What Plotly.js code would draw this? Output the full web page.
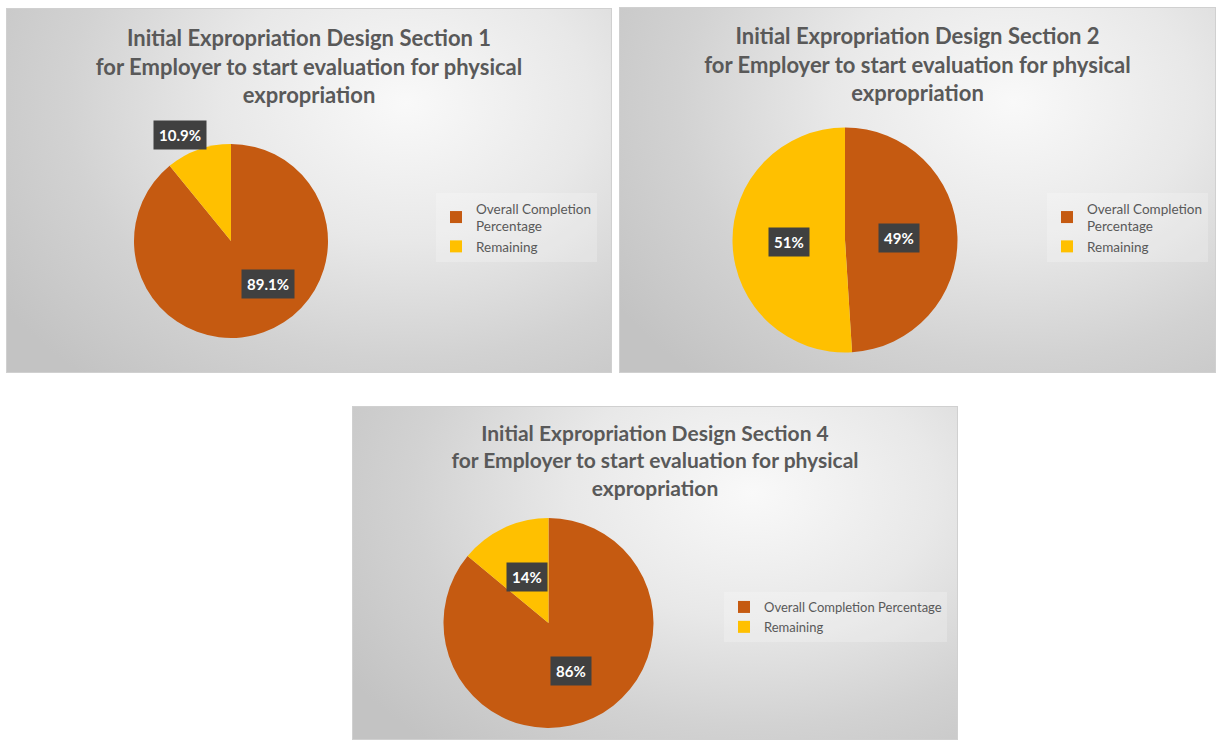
<!DOCTYPE html>
<html><head><meta charset="utf-8">
<script src="https://cdn.plot.ly/plotly-3.0.1.min.js"></script>
<style>
body{margin:0;background:#fff;width:1217px;height:740px;position:relative;overflow:hidden;}
.panel{position:absolute;
 background:radial-gradient(ellipse 80% 100% at 66% 26%, #f9f9f9 0%, #e8e8e8 38%, #d2d2d2 70%, #c3c3c3 100%);
 box-shadow: inset 0 0 0 1px #d0d0d0;}
</style></head><body>
<div id="p1" class="panel" style="left:6px;top:8px;width:606px;height:365px"></div>
<div id="p2" class="panel" style="left:619px;top:7px;width:597px;height:366px"></div>
<div id="p3" class="panel" style="left:352px;top:406px;width:606px;height:334px"></div>
<script>
// ---- data ----
const categories = ['Overall Completion Percentage', 'Remaining'];
const section1Values = [89.1, 10.9];
const section2Values = [49, 51];
const section4Values = [86, 14];
const section1Labels = ['89.1%', '10.9%'];
const section2Labels = ['49%', '51%'];
const section4Labels = ['86%', '14%'];
const title1 = 'Initial Expropriation Design Section 1<br>for Employer to start evaluation for physical<br>expropriation';
const title2 = 'Initial Expropriation Design Section 2<br>for Employer to start evaluation for physical<br>expropriation';
const title4 = 'Initial Expropriation Design Section 4<br>for Employer to start evaluation for physical<br>expropriation';

// ---- style ----
const sliceColors = ['#C55A11', '#FFC000'];
const FONT = 'Lato, "Open Sans", sans-serif';

function drawPanel(id, W, H, title, values, labels, st) {
  const legendNames = st.wrapLegend
    ? categories.map(c => c.replace(' Percentage', '<br>Percentage'))
    : categories;
  const cx = st.cx, cy = st.cy, r = st.r;
  const domain = {
    x: [(cx - r) / W, (cx + r) / W],
    y: [1 - (cy + r) / H, 1 - (cy - r) / H]
  };
  // label positions derived from slice mid-angles (clockwise from 12 o'clock)
  const total = values.reduce((a, b) => a + b, 0);
  let cum = 0;
  const annotations = values.map((v, i) => {
    const mid = (cum + v / 2) / total * 360 + st.turn[i];
    cum += v;
    const a = mid * Math.PI / 180;
    const d = st.dist[i] * r;
    const px = cx + d * Math.sin(a);
    const py = cy - d * Math.cos(a);
    return {
      x: px / W, y: 1 - py / H, xref: 'paper', yref: 'paper',
      xanchor: 'center', yanchor: 'middle', showarrow: false,
      text: '<b>' + labels[i] + '</b>',
      bgcolor: '#404040', borderpad: 5,
      font: {family: FONT, size: 15, color: '#ffffff'}
    };
  });
  const trace = {
    type: 'pie', labels: legendNames, values: values, sort: false,
    direction: 'clockwise', rotation: 0, textinfo: 'none', hoverinfo: 'none',
    marker: {colors: sliceColors, line: {width: 0}}, domain: domain
  };
  const layout = {
    width: W, height: H, margin: {l: 0, r: 0, t: 0, b: 0, autoexpand: false},
    paper_bgcolor: 'rgba(0,0,0,0)', plot_bgcolor: 'rgba(0,0,0,0)',
    title: {text: '<b>' + title + '</b>', x: 0.5, xanchor: 'center',
            yref: 'container', y: 1 - st.titleTop / H, yanchor: 'top',
            font: {family: FONT, size: st.titleSize, color: '#595959'}},
    showlegend: true,
    legend: {x: st.legX / W, y: 1 - st.legY / H, xanchor: 'left', yanchor: 'top',
             bgcolor: 'rgba(255,255,255,0.22)', borderwidth: 0,
             font: {family: FONT, size: st.legSize, color: '#595959'}, traceorder: 'normal'},
    annotations: annotations
  };
  Plotly.newPlot(id, [trace], layout, {staticPlot: true, displayModeBar: false});
}

drawPanel('p1', 606, 365, title1, section1Values, section1Labels,
  {cx: 225, cy: 233, r: 97, wrapLegend: true, titleTop: 38, titleSize: 22,
   legX: 430, legY: 185, legSize: 13.5, dist: [0.585, 1.21], turn: [-21, -6]});
drawPanel('p2', 597, 366, title2, section2Values, section2Labels,
  {cx: 226, cy: 233, r: 112.5, wrapLegend: true, titleTop: 37, titleSize: 22,
   legX: 428, legY: 186, legSize: 13.5, dist: [0.48, 0.5], turn: [0, 0]});
drawPanel('p3', 606, 334, title4, section4Values, section4Labels,
  {cx: 196.5, cy: 217, r: 105, wrapLegend: false, titleTop: 35, titleSize: 21,
   legX: 372, legY: 186, legSize: 13, dist: [0.51, 0.48], turn: [0, 0]});
</script>
</body></html>
